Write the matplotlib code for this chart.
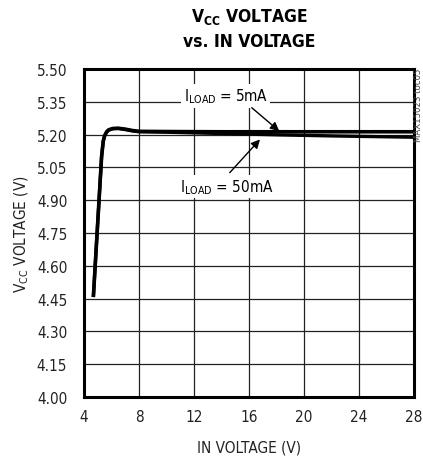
import matplotlib
matplotlib.use("Agg")
import matplotlib.pyplot as plt

plt.rcParams['font.family'] = ['DejaVu Sans']
plt.rcParams['font.stretch'] = 'condensed'
plt.rcParams['mathtext.fontset'] = 'custom'
plt.rcParams['mathtext.rm'] = 'DejaVu Sans:stretch=condensed'
plt.rcParams['mathtext.bf'] = 'DejaVu Sans:bold:stretch=condensed'

# Data
vin_5mA = [4.68, 4.85, 5.0, 5.15, 5.28, 5.4, 5.5, 5.65, 5.8, 6.1, 6.5, 7.0, 7.5, 8.0, 10, 14, 18, 22, 28]
vcc_5mA = [4.457, 4.64, 4.80, 4.96, 5.10, 5.17, 5.195, 5.213, 5.222, 5.228, 5.229, 5.225, 5.219, 5.215, 5.214, 5.213, 5.213, 5.213, 5.213]
vin_50mA = [4.68, 4.85, 5.0, 5.15, 5.28, 5.4, 5.5, 5.65, 5.8, 6.1, 6.5, 7.0, 7.5, 8.0, 10, 14, 18, 22, 28]
vcc_50mA = [4.457, 4.64, 4.80, 4.96, 5.10, 5.17, 5.195, 5.212, 5.221, 5.227, 5.228, 5.223, 5.217, 5.213, 5.211, 5.205, 5.199, 5.194, 5.188]

xticks = [4, 8, 12, 16, 20, 24, 28]
yticks = [4.00, 4.15, 4.30, 4.45, 4.60, 4.75, 4.90, 5.05, 5.20, 5.35, 5.50]

fig = plt.figure(figsize=(4.23, 4.60), dpi=100)
ax = fig.add_axes([84/423, 62/460, 330/423, 328/460])

ax.plot(vin_5mA, vcc_5mA, color='black', lw=2.6, solid_capstyle='butt', zorder=3)
ax.plot(vin_50mA, vcc_50mA, color='black', lw=2.4, solid_capstyle='butt', zorder=3)

ax.set_xlim(4, 28)
ax.set_ylim(4.0, 5.5)
ax.set_xticks(xticks)
ax.set_xticklabels([str(t) for t in xticks])
ax.set_yticks(yticks)
ax.set_yticklabels([f"{t:.2f}" for t in yticks])
ax.tick_params(length=0, labelsize=11, colors='#222222')
ax.tick_params(axis='y', pad=12)
ax.tick_params(axis='x', pad=9)
ax.grid(True, color='#222222', lw=0.9)
ax.set_axisbelow(True)
for s in ax.spines.values():
    s.set_linewidth(2.2)
    s.set_color('black')

ax.set_xlabel("IN VOLTAGE (V)", fontsize=11, color='#222222', va='center')
ax.xaxis.set_label_coords(0.5, -50/328)
ax.set_ylabel(r"V$_{\mathrm{CC}}$ VOLTAGE (V)", fontsize=11, color='#222222', va='center')
ax.yaxis.set_label_coords(-62/330, 0.5)

fig.text(249/423, 1 - 17/460, r"V$_{\mathbf{CC}}$ VOLTAGE", fontsize=12.5, fontweight='bold',
         ha='center', va='center')
fig.text(249/423, 1 - 42/460, "vs. IN VOLTAGE", fontsize=12.5, fontweight='bold',
         ha='center', va='center')

bbox = dict(boxstyle='square,pad=0.15', fc='white', ec='none')
arrow = dict(arrowstyle='-|>', lw=1.0, color='black', mutation_scale=13, shrinkA=0, shrinkB=0)
ax.annotate(r"I$_{\mathrm{LOAD}}$ = 5mA", xy=(18.2, 5.216), xytext=(14.3, 5.377),
            fontsize=11, ha='center', va='center', bbox=bbox, zorder=4)
ax.annotate("", xy=(18.2, 5.216), xytext=(16.2, 5.323), arrowprops=arrow, zorder=5)
ax.annotate(r"I$_{\mathrm{LOAD}}$ = 50mA", xy=(16.9, 5.178), xytext=(14.4, 4.963),
            fontsize=11, ha='center', va='center', bbox=bbox, zorder=4)
ax.annotate("", xy=(16.8, 5.178), xytext=(14.6, 5.026), arrowprops=arrow, zorder=5)

fig.text(418.5/423, 1 - 105/460, "MAX15023 toc05", fontsize=6.8, rotation=90,
         ha='center', va='center', color='#444444')

fig.savefig("out.png", dpi=100)
